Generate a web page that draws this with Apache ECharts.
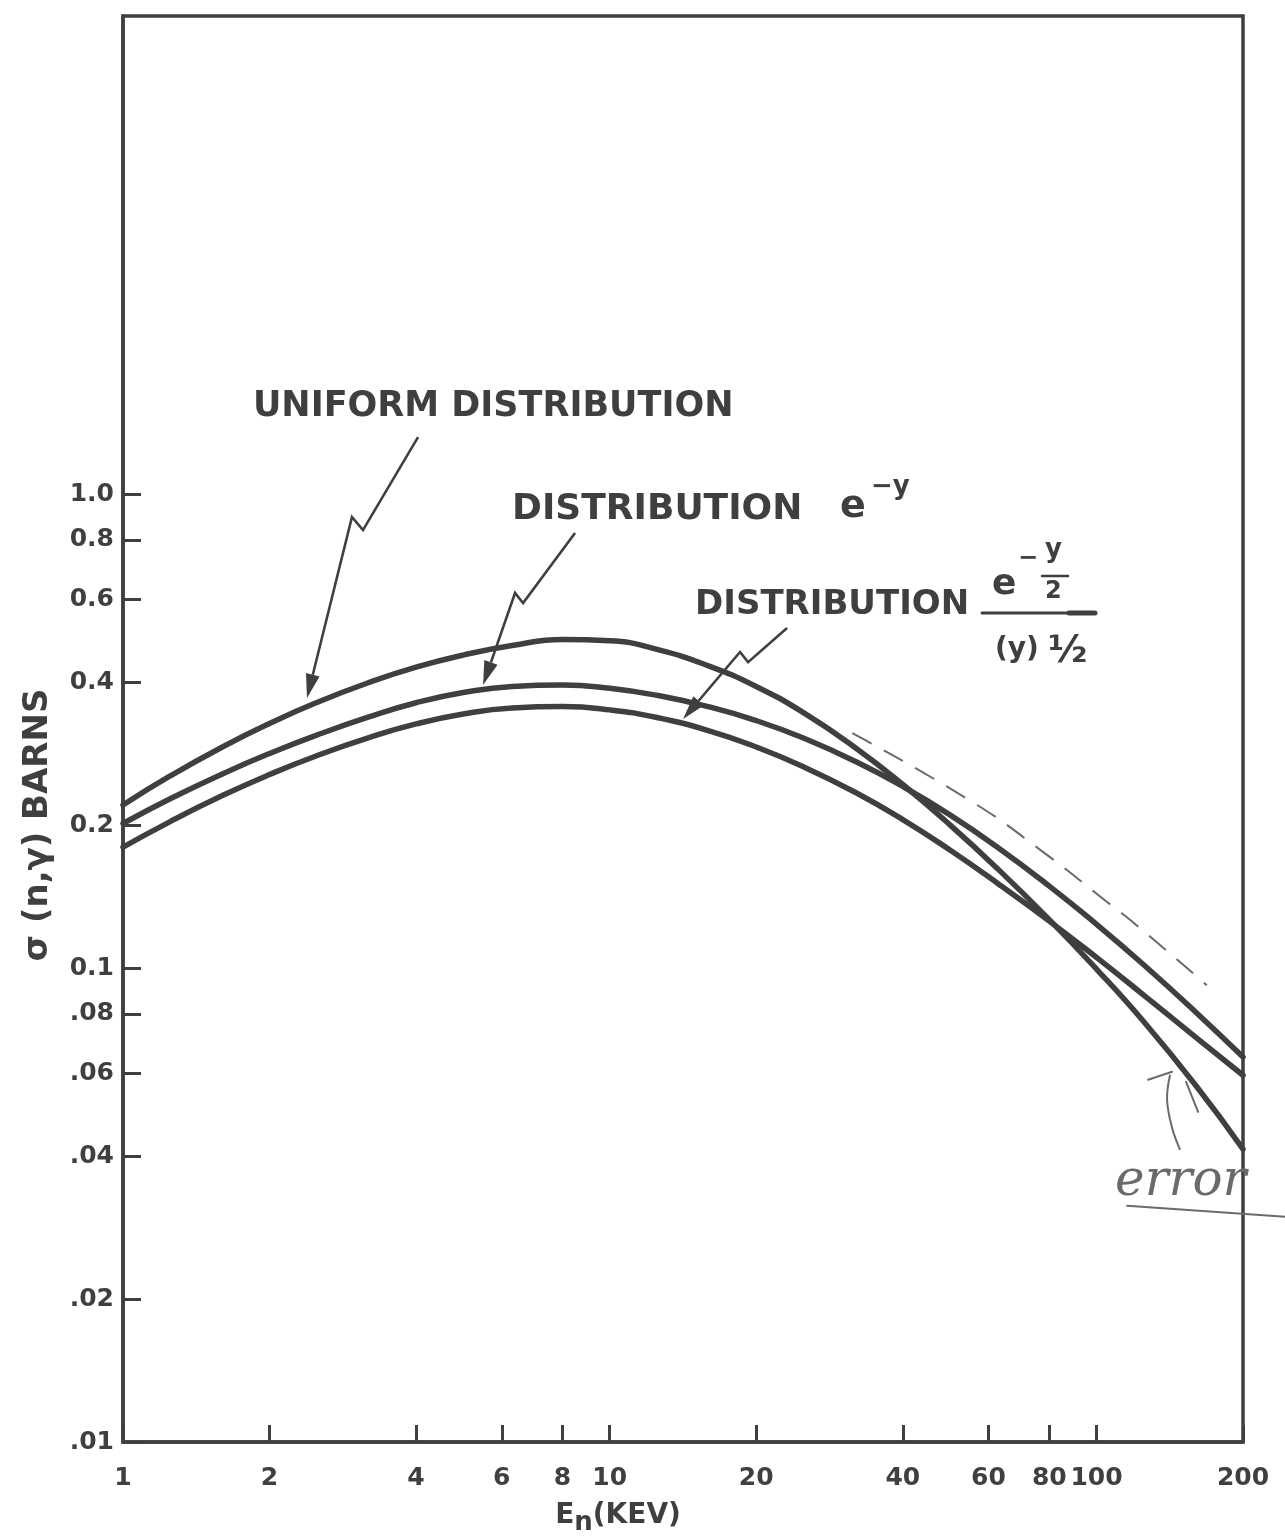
<!DOCTYPE html>
<html>
<head>
<meta charset="utf-8">
<title>Capture cross section vs neutron energy</title>
<script src="https://cdn.jsdelivr.net/npm/echarts@6/dist/echarts.min.js"></script>
<style>
  html, body { margin: 0; padding: 0; background: #ffffff; }
  #chart { width: 1285px; height: 1539px; }
</style>
</head>
<body>
<div id="chart"></div>
<script>
// Neutron energy (keV) at which the cross sections are tabulated
const energyKeV = [1, 1.25, 1.6, 2, 2.5, 3.2, 4, 5, 6.3, 8, 10, 12.5, 16, 20, 25, 32, 40, 50, 63, 80, 100, 125, 160, 200];

// sigma(n,gamma) in barns for the three level-width distributions
const sigmaUniform = [0.2208, 0.2542, 0.2927, 0.3281, 0.3632, 0.4003, 0.4312, 0.4574, 0.4790, 0.4931, 0.4902, 0.4702, 0.4336, 0.3926, 0.3458, 0.2913, 0.2439, 0.2005, 0.1611, 0.1265, 0.0995, 0.0771, 0.0565, 0.0415];
const sigmaExpY = [0.2018, 0.2276, 0.2568, 0.2835, 0.3100, 0.3387, 0.3628, 0.3813, 0.3928, 0.3955, 0.3893, 0.3762, 0.3557, 0.3327, 0.3056, 0.2727, 0.2416, 0.2104, 0.1790, 0.1489, 0.1237, 0.1016, 0.0807, 0.0649];
const sigmaExpHalfY = [0.1799, 0.2037, 0.2311, 0.2560, 0.2805, 0.3062, 0.3273, 0.3436, 0.3537, 0.3561, 0.3505, 0.3377, 0.3166, 0.2926, 0.2659, 0.2346, 0.2057, 0.1774, 0.1503, 0.1256, 0.1053, 0.0877, 0.0714, 0.0594];

// pencilled error bound (dashed)
const errorEnergyKeV = [31.5, 55.6, 76.4, 105, 121, 168.5];
const errorSigma = [0.313, 0.224, 0.178, 0.138, 0.123, 0.092];

// axis extents and ticks
const energyMin = 1;
const energyMax = 200;
const sigmaMin = 0.01;
const sigmaMax = 10.2;
const xTicks = [1, 2, 4, 6, 8, 10, 20, 40, 60, 80, 100, 200];
const xTickLabels = ['1', '2', '4', '6', '8', '10', '20', '40', '60', '80', '100', '200'];
const yTicks = [0.01, 0.02, 0.04, 0.06, 0.08, 0.1, 0.2, 0.4, 0.6, 0.8, 1.0];
const yTickLabels = ['.01', '.02', '.04', '.06', '.08', '0.1', '0.2', '0.4', '0.6', '0.8', '1.0'];

const lg = Math.log10;
const INK = '#3f3f3f';
const PENCIL = '#6a6a6a';
const FONT = "'DejaVu Sans', 'Liberation Sans', sans-serif";

const xTickLog = xTicks.map(lg);
const yTickLog = yTicks.map(lg);

function labelFor(logs, labels) {
  return function (v) {
    const i = logs.findIndex(function (t) { return Math.abs(t - v) < 1e-6; });
    return i < 0 ? '' : labels[i];
  };
}
function toPairs(xs, ys) {
  return xs.map(function (x, i) { return [lg(x), lg(ys[i])]; });
}

const chart = echarts.init(document.getElementById('chart'), null, { renderer: 'canvas' });

const labelText = { fontSize: 25, fontWeight: 'bold', fontFamily: FONT, color: INK };
const curveLine = { color: INK, width: 5.5, cap: 'round', join: 'round' };

function curve(name, ys) {
  return {
    name: name, type: 'line', data: toPairs(energyKeV, ys),
    smooth: true, symbol: 'none', lineStyle: curveLine, z: 3
  };
}

chart.setOption({
  animation: false,
  backgroundColor: '#ffffff',
  grid: {
    left: 123, right: 42, top: 16, bottom: 97,
    show: true, borderColor: INK, borderWidth: 3.5,
    containLabel: false, outerBoundsMode: 'none'
  },
  xAxis: {
    type: 'value', min: lg(energyMin), max: lg(energyMax),
    name: '{e|E}{n|n}{e|(KEV)}',
    nameLocation: 'middle', nameGap: 54,
    nameTextStyle: {
      padding: [0, 130, 0, 0],
      rich: {
        e: { fontSize: 28, fontWeight: 'bold', fontFamily: FONT, color: INK },
        n: { fontSize: 26, fontWeight: 'bold', fontFamily: FONT, color: INK, padding: [14, 0, 0, 0] }
      }
    },
    axisLine: { show: true, onZero: false, lineStyle: { color: INK, width: 3.5 } },
    axisTick: { show: true, inside: true, length: 17, customValues: xTickLog, lineStyle: { color: INK, width: 3 } },
    axisLabel: Object.assign({ customValues: xTickLog, formatter: labelFor(xTickLog, xTickLabels), margin: 24 }, labelText),
    splitLine: { show: false }
  },
  yAxis: {
    type: 'value', min: lg(sigmaMin), max: lg(sigmaMax),
    name: 'σ (n,γ) BARNS',
    nameLocation: 'middle', nameRotate: 90, nameGap: 68,
    nameTextStyle: { fontSize: 34, fontWeight: 'bold', fontFamily: FONT, color: INK, padding: [0, 192, 0, 0] },
    axisLine: { show: true, onZero: false, lineStyle: { color: INK, width: 3.5 } },
    axisTick: { show: true, inside: true, length: 18, customValues: yTickLog, lineStyle: { color: INK, width: 3 } },
    axisLabel: Object.assign({ customValues: yTickLog, formatter: labelFor(yTickLog, yTickLabels), margin: 9 }, labelText),
    splitLine: { show: false }
  },
  series: [
    curve('Uniform distribution', sigmaUniform),
    curve('Distribution e^-y', sigmaExpY),
    curve('Distribution e^(-y/2)/y^(1/2)', sigmaExpHalfY),
    {
      name: 'error', type: 'line', data: toPairs(errorEnergyKeV, errorSigma),
      smooth: true, symbol: 'none', z: 2,
      lineStyle: { color: PENCIL, width: 2, type: [22, 14] }
    }
  ]
});

// ---- lettering and pointer arrows, anchored in data space ----
function at(e, s) {
  return chart.convertToPixel({ gridIndex: 0 }, [lg(e), lg(s)]);
}
function txt(p, dx, dy, text, size, extra) {
  return {
    type: 'text', x: p[0] + dx, y: p[1] + dy, z: 10,
    style: Object.assign({
      text: text, fill: INK, fontSize: size, fontWeight: 'bold', fontFamily: FONT,
      align: 'left', verticalAlign: 'middle', textAlign: 'left', textVerticalAlign: 'middle'
    }, extra || {})
  };
}
function seg(p, x1, y1, x2, y2, width, color) {
  return {
    type: 'line', z: 10,
    shape: { x1: p[0] + x1, y1: p[1] + y1, x2: p[0] + x2, y2: p[1] + y2 },
    style: { stroke: color || INK, lineWidth: width, lineCap: 'round' }
  };
}
function arrow(points) {
  const n = points.length;
  const a = Math.atan2(points[n - 1][1] - points[n - 2][1], points[n - 1][0] - points[n - 2][0]);
  const L = 24, W = 7;
  const tip = points[n - 1];
  const bx = tip[0] - L * Math.cos(a), by = tip[1] - L * Math.sin(a);
  const shaft = points.slice(0, n - 1).concat([[bx, by]]);
  return [
    { type: 'polyline', z: 10, shape: { points: shaft }, style: { stroke: INK, lineWidth: 2.6, fill: null, lineJoin: 'miter' } },
    { type: 'polygon', z: 10, shape: { points: [tip, [bx + W * Math.sin(a), by - W * Math.cos(a)], [bx - W * Math.sin(a), by + W * Math.cos(a)]] }, style: { fill: INK } }
  ];
}

const g = [];

// UNIFORM DISTRIBUTION
const L1 = at(1.849, 1.526);
g.push(txt(L1, 0, 0, 'UNIFORM DISTRIBUTION', 35));
g.push.apply(g, arrow([at(4.038, 1.319), at(3.112, 0.8396), at(2.954, 0.8944), at(2.388, 0.3712)]));

// DISTRIBUTION e^-y
const L2 = at(6.30, 0.925);
g.push(txt(L2, 0, 0, 'DISTRIBUTION', 36));
g.push(txt(L2, 328, -3, 'e', 38));
g.push(txt(L2, 359, -23, '−y', 26));
g.push.apply(g, arrow([at(8.486, 0.8273), at(6.636, 0.5888), at(6.389, 0.6183), at(5.492, 0.3954)]));

// DISTRIBUTION e^(-y/2) / (y)^1/2
const L3 = at(14.97, 0.5832);
g.push(txt(L3, 0, 0, 'DISTRIBUTION', 34));
g.push(txt(L3, 297, -20, 'e', 36));
g.push(txt(L3, 323, -46, '−', 24));
g.push(txt(L3, 350, -55, 'y', 26));
g.push(seg(L3, 347, -29, 373, -29, 2.5));
g.push(txt(L3, 350, -13, '2', 24));
g.push(seg(L3, 287, 8, 400, 8, 3));
g.push(seg(L3, 374, 8, 400, 8, 5));
g.push(txt(L3, 300, 45, '(y)', 28));
g.push(txt(L3, 353, 47, '½', 38));
g.push.apply(g, arrow([at(23.14, 0.5217), at(19.24, 0.4420), at(18.52, 0.4642), at(14.15, 0.3352)]));

// pencilled "error" note with its pointer
const E = at(109.2, 0.0354);
g.push(txt(E, 0, 0, 'error', 50, { fontFamily: "'DejaVu Serif', serif", fontStyle: 'italic', fontWeight: 'normal', fill: PENCIL }));
g.push(seg(E, 12, 24, 170, 35, 2, PENCIL));
g.push(seg(E, 33, -102, 57, -110, 2, PENCIL));
g.push({
  type: 'polyline', z: 10,
  shape: { points: [[E[0] + 55, E[1] - 107], [E[0] + 52, E[1] - 82], [E[0] + 57, E[1] - 54], [E[0] + 65, E[1] - 32]], smooth: 0.4 },
  style: { stroke: PENCIL, lineWidth: 2, fill: null }
});
g.push(seg(E, 71, -100, 83, -70, 2, PENCIL));

chart.setOption({ graphic: g });
</script>
</body>
</html>
